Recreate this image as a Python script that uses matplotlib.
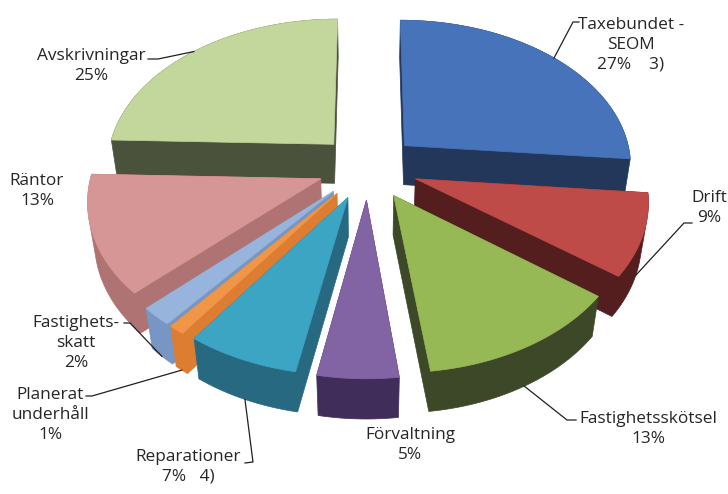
import numpy as np
import matplotlib.pyplot as plt

# data, clockwise from 12 o'clock
names = ['Taxebundet -\nSEOM', 'Drift', 'Fastighetsskötsel', 'Förvaltning',
         'Reparationer', 'Planerat\nunderhåll', 'Fastighets-\nskatt',
         'Räntor', 'Avskrivningar']
values = [27, 9, 13, 5, 7, 1, 2, 13, 25]
notes = ['    3)', '', '', '', '   4)', '', '', '', '']

top_colors = ['#4673B9', '#BE4B48', '#96B955', '#8264A5', '#3CA5C3',
              '#F09646', '#96B4DC', '#D79696', '#C3D69B']
side_colors = ['#23375A', '#551E1E', '#3C4828', '#412D5A', '#286982',
               '#DC7D32', '#7896C3', '#AF7373', '#4B523C']

# label block centres (pixels) and where the leader line leaves the label
label_pos = [(631, 45), (709, 208), (648, 429), (410, 445), (188, 467),
             (50, 415), (76, 343), (37, 191), (91, 66)]
leader_start = [[(579, 22), (573, 22)], [(692, 223), (684, 223)],
                [(576, 420), (567, 420)], None, [(245, 463), (253, 462)],
                [(86, 396), (92, 396)], [(124, 323), (130, 323)], None,
                [(148, 59), (158, 59)]]

# 3d view parameters
phi = np.radians(40)
dist = 6.0
focal = 228 * dist
cx, cy = 368, 167
depth_h = 0.23
explode = 0.22


def proj(X, Y, Z):
    d = dist + Y * np.cos(phi) - Z * np.sin(phi)
    return cx + focal * X / d, cy - focal * (Y * np.sin(phi) + Z * np.cos(phi)) / d


def hull(pts):
    pts = sorted(set(map(tuple, np.round(pts, 3))))
    def cross(o, a, b):
        return (a[0] - o[0]) * (b[1] - o[1]) - (a[1] - o[1]) * (b[0] - o[0])
    lower, upper = [], []
    for p in pts:
        while len(lower) >= 2 and cross(lower[-2], lower[-1], p) <= 0:
            lower.pop()
        lower.append(p)
    for p in reversed(pts):
        while len(upper) >= 2 and cross(upper[-2], upper[-1], p) <= 0:
            upper.pop()
        upper.append(p)
    return np.array(lower[:-1] + upper[:-1])


fracs = np.array(values) / sum(values)
edges = np.concatenate([[0], np.cumsum(fracs)]) * 2 * np.pi

fig = plt.figure(figsize=(7.28, 4.94), dpi=100)
ax = fig.add_axes([0, 0, 1, 1])
ax.set_xlim(0, 728)
ax.set_ylim(494, 0)
ax.axis('off')

slices = []
for i in range(len(values)):
    t0, t1 = edges[i], edges[i + 1]
    tm = (t0 + t1) / 2
    ox, oy = explode * np.sin(tm), explode * np.cos(tm)
    t = np.linspace(t0, t1, 80)
    X = np.concatenate([[ox], ox + np.sin(t)])
    Y = np.concatenate([[oy], oy + np.cos(t)])
    far = oy + 0.5 * np.cos(tm)
    slices.append((far, i, X, Y, tm, ox, oy))

# farthest slices first
for far, i, X, Y, tm, ox, oy in sorted(slices, key=lambda s: -s[0]):
    tx, ty = proj(X, Y, 0)
    bx, by = proj(X, Y, -depth_h)
    h = hull(np.column_stack([np.concatenate([tx, bx]), np.concatenate([ty, by])]))
    ax.fill(h[:, 0], h[:, 1], color=side_colors[i], lw=0.5)
    ax.fill(tx, ty, color=top_colors[i], lw=0.5)

txt_color = '#262626'
for far, i, X, Y, tm, ox, oy in slices:
    label = f'{names[i]}\n{values[i]}%{notes[i]}'
    ax.text(*label_pos[i], label, ha='center', va='center', fontsize=12.4,
            family='Open Sans', color=txt_color, linespacing=1.3)
    if leader_start[i] is not None:
        # front slices: leader ends at the foot of the outer wall
        z = -depth_h if np.cos(tm) < 0 else 0
        axp, ayp = proj(ox + np.sin(tm), oy + np.cos(tm), z)
        (x0, y0), (x1, y1) = leader_start[i]
        ax.plot([x0, x1, axp], [y0, y1, ayp], color='#202020', lw=0.9)

fig.savefig('out.png', dpi=100)
